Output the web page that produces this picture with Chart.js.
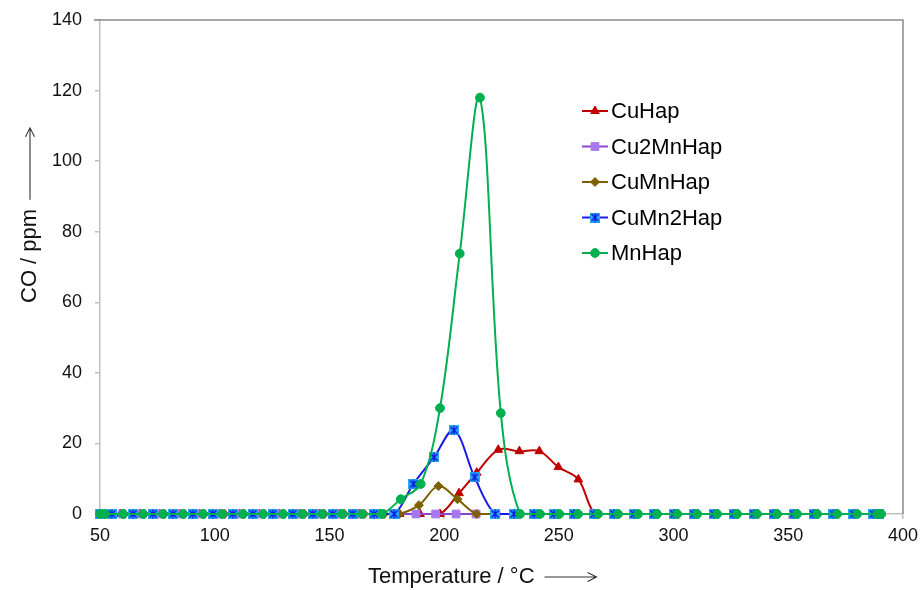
<!DOCTYPE html>
<html><head><meta charset="utf-8">
<script src="https://cdn.jsdelivr.net/npm/chart.js@4.4.1/dist/chart.umd.min.js"></script>
<style>html,body{margin:0;padding:0;background:#fff;} #wrap{width:921px;height:590px;}</style>
</head><body><div id="wrap"><canvas id="c" width="921" height="590"></canvas></div>
<script>
// ---- data ----
const seriesNames = ['CuHap', 'Cu2MnHap', 'CuMnHap', 'CuMn2Hap', 'MnHap'];

const cuHapT  = [50.5, 58.8, 67.4, 76.0, 84.7, 93.4, 102.1, 110.8, 119.5, 128.2, 136.9, 145.6, 154.3, 163.0, 171.7, 180.6, 189.5, 198.2, 206.5, 214.2, 223.6, 232.8, 241.5, 249.8, 258.5, 265.8, 274.3, 283.0, 291.7, 300.4, 309.1, 317.8, 326.5, 335.2, 343.9, 352.6, 361.3, 370.0, 378.7, 387.4];
const cuHapCO = [0, 0, 0, 0, 0, 0, 0, 0, 0, 0, 0, 0, 0, 0, 0, 0, 0, 0, 5.9, 11.7, 18.2, 17.8, 17.8, 13.3, 9.8, 0, 0, 0, 0, 0, 0, 0, 0, 0, 0, 0, 0, 0, 0, 0];

const cu2MnHapT  = [51.0, 59.7, 68.4, 77.1, 85.8, 94.5, 103.2, 111.9, 120.6, 129.3, 138.0, 146.7, 155.4, 164.1, 172.8, 179.0, 187.7, 196.3, 205.2, 213.9, 222.6, 231.3, 240.0, 248.7, 257.4, 266.1, 274.8, 283.5, 292.2, 300.9, 309.6, 318.3, 327.0, 335.7, 344.4, 353.1, 361.8, 370.5, 379.2, 387.9];
const cu2MnHapCO = [0, 0, 0, 0, 0, 0, 0, 0, 0, 0, 0, 0, 0, 0, 0, 0, 0, 0, 0, 0, 0, 0, 0, 0, 0, 0, 0, 0, 0, 0, 0, 0, 0, 0, 0, 0, 0, 0, 0, 0];

const cuMnHapT  = [52.0, 60.7, 69.4, 78.1, 86.8, 95.5, 104.2, 112.9, 121.6, 130.3, 139.0, 147.7, 156.4, 165.1, 173.8, 180.4, 189.0, 197.5, 205.8, 214.2, 222.9, 231.6, 240.3, 249.0, 257.7, 266.4, 275.1, 283.8, 292.5, 301.2, 309.9, 318.6, 327.3, 336.0, 344.7, 353.4, 362.1, 370.8, 379.5, 388.2];
const cuMnHapCO = [0, 0, 0, 0, 0, 0, 0, 0, 0, 0, 0, 0, 0, 0, 0, 0, 2.5, 7.9, 4.2, 0, 0, 0, 0, 0, 0, 0, 0, 0, 0, 0, 0, 0, 0, 0, 0, 0, 0, 0, 0, 0];

const cuMn2HapT  = [50.0, 55.1, 64.4, 73.1, 81.8, 90.5, 99.2, 107.9, 116.6, 125.3, 134.0, 142.7, 151.4, 160.1, 169.4, 178.2, 186.6, 195.6, 204.3, 213.3, 222.2, 230.5, 239.2, 247.9, 256.6, 265.3, 274.0, 282.7, 291.4, 300.1, 308.8, 317.5, 326.2, 334.9, 343.6, 352.3, 361.0, 369.7, 378.4, 387.1, 389.5];
const cuMn2HapCO = [0, 0, 0, 0, 0, 0, 0, 0, 0, 0, 0, 0, 0, 0, 0, 0, 8.5, 16.1, 23.7, 10.4, 0, 0, 0, 0, 0, 0, 0, 0, 0, 0, 0, 0, 0, 0, 0, 0, 0, 0, 0, 0, 0];

const mnHapT  = [50.0, 52.2, 60.0, 68.7, 77.5, 86.2, 94.9, 103.2, 112.3, 121.1, 129.8, 138.1, 146.8, 155.5, 164.1, 172.8, 181.1, 189.8, 198.2, 206.8, 215.6, 224.7, 233.1, 241.8, 250.2, 258.4, 267.1, 275.8, 284.5, 292.8, 301.6, 310.3, 319.0, 327.7, 336.4, 345.1, 353.8, 362.6, 371.3, 380.0, 388.7, 390.5];
const mnHapCO = [0, 0, 0, 0, 0, 0, 0, 0, 0, 0, 0, 0, 0, 0, 0, 0, 4.2, 8.5, 30.0, 73.8, 118.0, 28.6, 0, 0, 0, 0, 0, 0, 0, 0, 0, 0, 0, 0, 0, 0, 0, 0, 0, 0, 0, 0];

const xTickValues = [50, 100, 150, 200, 250, 300, 350, 400];
const yTickValues = [0, 20, 40, 60, 80, 100, 120, 140];
const xTitle = 'Temperature / \u00B0C';
const yTitle = 'CO / ppm';

// ---- styling ----
const FONT = '"Liberation Sans", Arial, Helvetica, sans-serif';
function pts(t, v) { return t.map((x, i) => ({ x: x, y: v[i] })); }
function makeStarBox() {
  const c = document.createElement('canvas'); c.width = 10; c.height = 10;
  const g = c.getContext('2d');
  g.fillStyle = '#29a8f2'; g.fillRect(0, 0, 10, 10);
  g.strokeStyle = '#0a14e6'; g.lineWidth = 1.3;
  g.beginPath();
  g.moveTo(1.5, 1.5); g.lineTo(8.5, 8.5);
  g.moveTo(8.5, 1.5); g.lineTo(1.5, 8.5);
  g.moveTo(5, 0.5); g.lineTo(5, 9.5);
  g.stroke();
  return c;
}
const starBox = makeStarBox();

const styles = [
  { line: '#c00000', fill: '#c00000', style: 'triangle', r: 5 },
  { line: '#8a45d0', fill: '#a678f0', style: 'rect', r: 5.5 },
  { line: '#7f6000', fill: '#7f6000', style: 'rectRot', r: 4.5 },
  { line: '#1a1ae6', fill: '#29a8f2', style: starBox, r: 5 },
  { line: '#00b050', fill: '#00b050', style: 'circle', r: 4.4 }
];
const series = [[cuHapT, cuHapCO], [cu2MnHapT, cu2MnHapCO], [cuMnHapT, cuMnHapCO], [cuMn2HapT, cuMn2HapCO], [mnHapT, mnHapCO]];

const datasets = series.map((s, i) => ({
  label: seriesNames[i],
  data: pts(s[0], s[1]),
  borderColor: styles[i].line,
  backgroundColor: styles[i].fill,
  pointBackgroundColor: styles[i].fill,
  pointBorderColor: styles[i].fill,
  pointBorderWidth: 1,
  pointStyle: styles[i].style,
  pointRadius: styles[i].r,
  pointHoverRadius: styles[i].r,
  borderWidth: 2,
  tension: 0.35,
  fill: false,
  clip: false,
  order: 4 - i
}));

function drawMarker(ctx, st, x, y) {
  ctx.save();
  ctx.fillStyle = st.fill; ctx.strokeStyle = st.fill; ctx.lineWidth = 1;
  const r = st.r;
  ctx.beginPath();
  if (st.style === 'circle') { ctx.arc(x, y, r, 0, Math.PI * 2); }
  else if (st.style === 'triangle') {
    ctx.moveTo(x, y - r); ctx.lineTo(x + r * 0.866, y + r * 0.5); ctx.lineTo(x - r * 0.866, y + r * 0.5); ctx.closePath();
  } else if (st.style === 'rect') { const s = r * Math.SQRT1_2; ctx.rect(x - s, y - s, 2 * s, 2 * s); }
  else if (st.style === 'rectRot') { ctx.moveTo(x, y - r); ctx.lineTo(x + r, y); ctx.lineTo(x, y + r); ctx.lineTo(x - r, y); ctx.closePath(); }
  else { ctx.drawImage(st.style, x - st.style.width / 2, y - st.style.height / 2); ctx.restore(); return; }
  ctx.fill(); ctx.stroke();
  ctx.restore();
}

// long thin arrow along +x in the current frame
function drawArrow(ctx, x0, y0, len) {
  ctx.save();
  ctx.strokeStyle = '#333'; ctx.lineWidth = 1.1;
  ctx.beginPath();
  ctx.moveTo(x0, y0); ctx.lineTo(x0 + len, y0);
  ctx.moveTo(x0 + len - 9, y0 - 4.5); ctx.lineTo(x0 + len, y0); ctx.lineTo(x0 + len - 9, y0 + 4.5);
  ctx.stroke();
  ctx.restore();
}

const framePlugin = {
  id: 'frame',
  beforeDatasetsDraw(chart) {
    const { ctx, chartArea: a } = chart;
    ctx.save();
    ctx.strokeStyle = '#8a8a8a'; ctx.lineWidth = 1.5;
    ctx.beginPath();
    ctx.moveTo(a.left - 6, a.top); ctx.lineTo(a.right, a.top); ctx.lineTo(a.right, a.bottom);
    ctx.stroke();
    ctx.restore();
  }
};

const titlePlugin = {
  id: 'axisTitles',
  afterDraw(chart) {
    const ctx = chart.ctx;
    ctx.save();
    ctx.font = '22px ' + FONT;
    ctx.fillStyle = '#111';
    ctx.textAlign = 'left';
    ctx.textBaseline = 'middle';
    // x title
    ctx.fillText(xTitle, 368, 577);
    const wx = ctx.measureText(xTitle).width;
    drawArrow(ctx, 368 + wx + 10, 577, 52);
    // y title (rotated, reading upwards)
    ctx.translate(30, 303);
    ctx.rotate(-Math.PI / 2);
    ctx.fillText(yTitle, 0, 0);
    const wy = ctx.measureText(yTitle).width;
    drawArrow(ctx, wy + 9, 0, 72);
    ctx.restore();
  }
};

const legendPlugin = {
  id: 'insideLegend',
  afterDatasetsDraw(chart) {
    const ctx = chart.ctx;
    ctx.save();
    ctx.font = '22px ' + FONT;
    ctx.textBaseline = 'middle';
    ctx.textAlign = 'left';
    chart.data.datasets.forEach((ds, i) => {
      const y = 111 + i * 35.5;
      ctx.strokeStyle = ds.borderColor; ctx.lineWidth = 2;
      ctx.beginPath(); ctx.moveTo(582, y); ctx.lineTo(608, y); ctx.stroke();
      drawMarker(ctx, styles[i], 595, y);
      ctx.fillStyle = '#000';
      ctx.fillText(ds.label, 611, y + 1);
    });
    ctx.restore();
  }
};

new Chart(document.getElementById('c'), {
  type: 'line',
  data: { datasets: datasets },
  plugins: [framePlugin, legendPlugin, titlePlugin],
  options: {
    responsive: false,
    devicePixelRatio: 1,
    animation: false,
    layout: { padding: { top: 20, right: 18, left: 0, bottom: 0 } },
    plugins: { legend: { display: false }, tooltip: { enabled: false } },
    elements: { line: { capBezierPoints: true } },
    scales: {
      x: {
        type: 'linear', min: 50, max: 400,
        afterBuildTicks: s => { s.ticks = xTickValues.map(v => ({ value: v })); },
        afterFit: s => { s.height = 76; s.paddingLeft = 0; s.paddingRight = 0; },
        grid: { display: true, drawOnChartArea: false, drawTicks: true, tickLength: 5, color: '#bfbfbf', lineWidth: 1.5 },
        border: { display: true, color: '#bfbfbf', width: 1.5 },
        ticks: { color: '#111', font: { family: FONT, size: 18 }, padding: 6, maxRotation: 0 },
        title: { display: false }
      },
      y: {
        min: 0, max: 140,
        afterBuildTicks: s => { s.ticks = yTickValues.map(v => ({ value: v })); },
        afterFit: s => { s.width = 100; s.paddingTop = 0; s.paddingBottom = 0; },
        grid: { display: true, drawOnChartArea: false, drawTicks: true, tickLength: 5, color: '#bfbfbf', lineWidth: 1.5 },
        border: { display: true, color: '#bfbfbf', width: 1.5 },
        ticks: { color: '#111', font: { family: FONT, size: 18 }, padding: 13 },
        title: { display: false }
      }
    }
  }
});
</script>
</body></html>
